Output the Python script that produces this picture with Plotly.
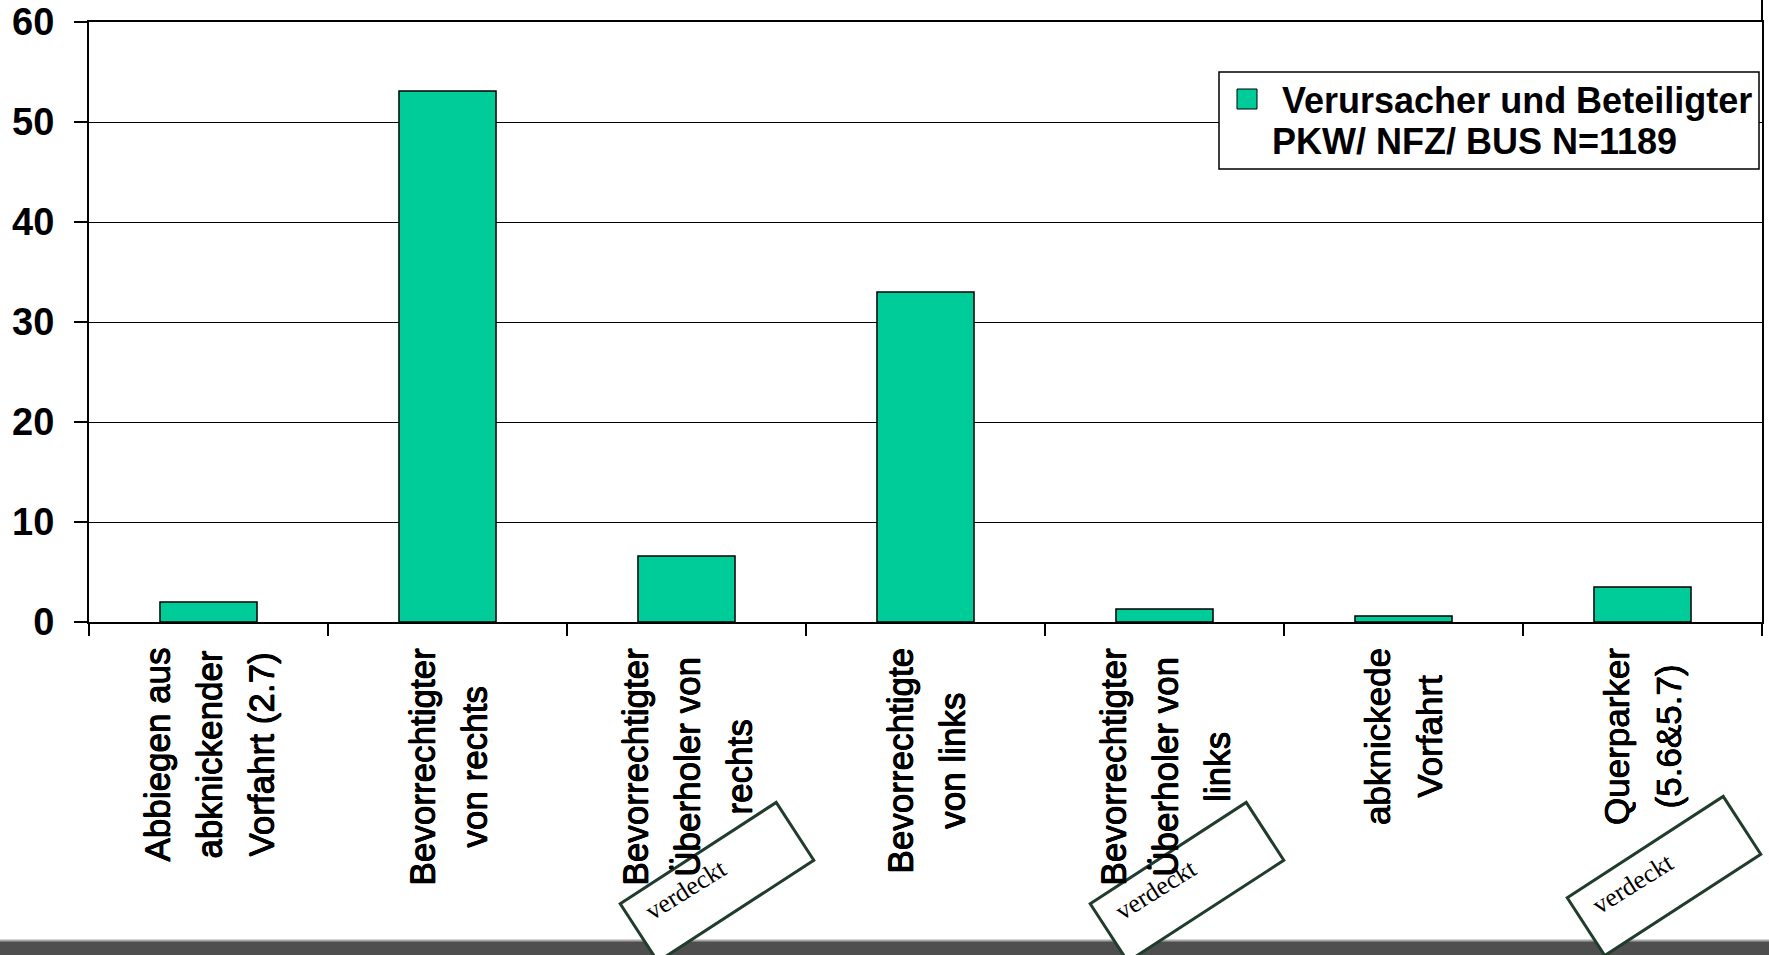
import math
import plotly.graph_objects as go

# ---------------- data ----------------
categories = [
    "Abbiegen aus abknickender Vorfahrt (2.7)",
    "Bevorrechtigter von rechts",
    "Bevorrechtigter Überholer von rechts",
    "Bevorrechtigte von links",
    "Bevorrechtigter Überholer von links",
    "abknickede Vorfahrt",
    "Querparker (5.6&5.7)",
]
tick_label_lines = [
    ["Abbiegen aus", "abknickender", "Vorfahrt (2.7)"],
    ["Bevorrechtigter", "von rechts"],
    ["Bevorrechtigter", "Überholer von", "rechts"],
    ["Bevorrechtigte", "von links"],
    ["Bevorrechtigter", "Überholer von", "links"],
    ["abknickede", "Vorfahrt"],
    ["Querparker", "(5.6&5.7)"],
]
values = [2.0, 53.1, 6.6, 33.0, 1.3, 0.6, 3.5]
y_ticks = [0, 10, 20, 30, 40, 50, 60]
series_name = "Verursacher und Beteiligter"
series_note = "PKW/ NFZ/ BUS N=1189"
stamp_text = "verdeckt"

# ---------------- style ----------------
W, H = 1769, 955
ML, MR, MT, MB = 89, 7, 22, 333
PW, PH = W - ML - MR, H - MT - MB
BAR = "#00CC99"
STAMP = "#203C2C"
SANS = "Liberation Sans, Arial, sans-serif"
SERIF = "Liberation Serif, Times New Roman, serif"
THICK = "0.4px 0 0 black, -0.4px 0 0 black, 0 0.4px 0 black, 0 -0.4px 0 black"


def px(x):
    return (x - ML) / PW


def py(y):
    return (H - MB - y) / PH


fig = go.Figure()
fig.add_trace(go.Bar(
    x=categories, y=values, name=series_name,
    marker=dict(color=BAR, line=dict(color="black", width=1.5)),
    showlegend=False,
))

shapes = []
annotations = []

# x category labels (centered multi-line, rotated); base size sets line gap
for cat, lines in zip(categories, tick_label_lines):
    lab = "<br>".join(f"<span style='font-size:35px'>{t}</span>" for t in lines)
    annotations.append(dict(
        x=cat, y=0, xref="x", yref="y", text=lab, showarrow=False,
        textangle=-90, align="center", xanchor="center", yanchor="top",
        yshift=-24,
        font=dict(family=SANS, size=40, color="black", shadow=THICK),
    ))

# legend box drawn manually
shapes.append(dict(type="rect", xref="paper", yref="paper",
                   x0=px(1219), x1=px(1759), y0=py(72), y1=py(169),
                   fillcolor="white", line=dict(color="black", width=1.5),
                   layer="above"))
shapes.append(dict(type="rect", xref="paper", yref="paper",
                   x0=px(1237), x1=px(1257), y0=py(89), y1=py(109),
                   fillcolor=BAR, line=dict(color="black", width=1),
                   layer="above"))
annotations.append(dict(x=px(1280), y=py(100), xref="paper", yref="paper",
                        text=series_name, showarrow=False, xanchor="left",
                        yanchor="middle",
                        font=dict(family=SANS, size=36, color="black",
                                  weight="bold")))
annotations.append(dict(x=px(1270), y=py(142), xref="paper", yref="paper",
                        text=series_note, showarrow=False, xanchor="left",
                        yanchor="middle",
                        font=dict(family=SANS, size=36, color="black",
                                  weight="bold")))

# right frame line running to the top edge
shapes.append(dict(type="line", xref="paper", yref="paper",
                   x0=1, x1=1, y0=1, y1=py(0),
                   line=dict(color="black", width=2), layer="above"))

# gray band at bottom
shapes.append(dict(type="rect", xref="paper", yref="paper",
                   x0=px(0), x1=px(W), y0=py(941), y1=py(H + 2),
                   fillcolor="#4e4e4e", line=dict(width=0), layer="above"))
shapes.append(dict(type="line", xref="paper", yref="paper",
                   x0=px(0), x1=px(W), y0=py(940.5), y1=py(940.5),
                   line=dict(color="#a8a8a8", width=2), layer="above"))

# "verdeckt" stamps
stamps = [(717, 882), (1187, 882), (1664, 876)]
ang = math.radians(33)
L2, W2 = 93, 34.5
ux, uy = math.cos(ang), -math.sin(ang)
vx, vy = math.sin(ang), math.cos(ang)
for cx, cy in stamps:
    pts = []
    for a, b in [(-1, -1), (1, -1), (1, 1), (-1, 1)]:
        X = cx + a * L2 * ux + b * W2 * vx
        Y = cy + a * L2 * uy + b * W2 * vy
        pts.append((px(X), py(Y)))
    path = "M " + " L ".join(f"{x:.5f},{y:.5f}" for x, y in pts) + " Z"
    shapes.append(dict(type="path", xref="paper", yref="paper", path=path,
                       fillcolor="white", line=dict(color=STAMP, width=3),
                       layer="above"))
    tx = cx - 30 * ux - 10 * vx
    ty = cy - 30 * uy - 10 * vy
    annotations.append(dict(x=px(tx), y=py(ty), xref="paper", yref="paper",
                            text=stamp_text, showarrow=False, textangle=-32,
                            xanchor="center", yanchor="middle",
                            font=dict(family=SERIF, size=26, color="black")))

fig.update_layout(
    width=W, height=H,
    margin=dict(l=ML, r=MR, t=MT, b=MB, pad=0, autoexpand=False),
    paper_bgcolor="white", plot_bgcolor="white",
    bargap=0.594,
    shapes=shapes, annotations=annotations,
    showlegend=False,
    font=dict(family=SANS, color="black"),
)
fig.update_xaxes(
    type="category", showticklabels=False, showgrid=False, automargin=False,
    showline=True, linecolor="black", linewidth=2, mirror=True,
    ticks="outside", ticklen=12, tickwidth=1.5, tickcolor="black",
    tickson="boundaries",
)
fig.update_yaxes(
    range=[0, 60], tickvals=y_ticks, ticktext=[str(v) for v in y_ticks],
    automargin=False,
    showgrid=True, gridcolor="black", gridwidth=1.2, zeroline=False,
    showline=True, linecolor="black", linewidth=2, mirror=True,
    ticks="outside", ticklen=13, tickwidth=1.5, tickcolor="black",
    tickfont=dict(family=SANS, size=38, color="black", weight="bold"),
    ticklabelstandoff=12,
)

fig.write_html("out.html")
